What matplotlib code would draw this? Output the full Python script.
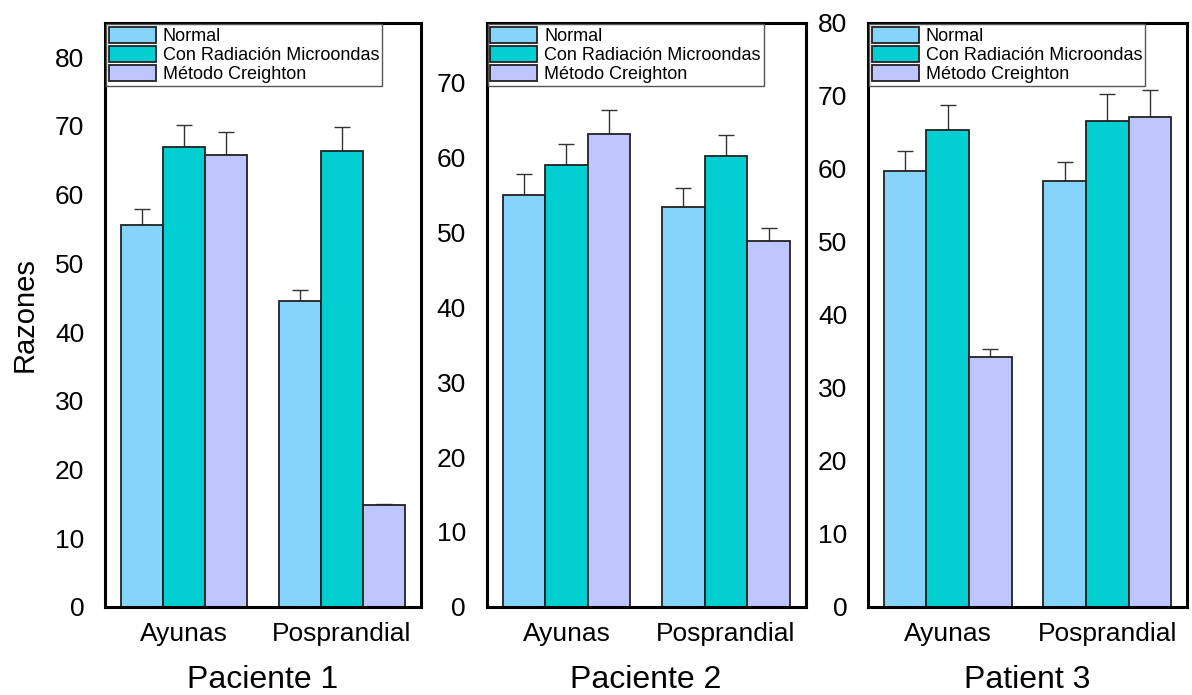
import numpy as np
import matplotlib
matplotlib.use('Agg')
import matplotlib.pyplot as plt

plt.rcParams['font.family'] = ['Liberation Sans', 'DejaVu Sans']

groups = ['Ayunas', 'Posprandial']
series = ['Normal', 'Con Radiación Microondas', 'Método Creighton']
colors = ['#87D4FA', '#00CED1', '#BFC5FF']
panels = ['Paciente 1', 'Paciente 2', 'Patient 3']

# values[panel][series] -> [Ayunas, Posprandial]
values = [
    [[55.6, 44.5], [66.9, 66.3], [65.8, 14.8]],
    [[55.0, 53.4], [59.0, 60.2], [63.2, 48.8]],
    [[59.7, 58.3], [65.3, 66.5], [34.2, 67.1]],
]
errors = [
    [[2.3, 1.6], [3.3, 3.5], [3.3, 0.2]],
    [[2.8, 2.5], [2.8, 2.8], [3.2, 1.8]],
    [[2.8, 2.6], [3.4, 3.7], [1.1, 3.7]],
]
ylims = [85, 78, 80]
yticks = [np.arange(0, 81, 10), np.arange(0, 71, 10), np.arange(0, 81, 10)]

fig = plt.figure(figsize=(11.92, 6.95), dpi=100)
lefts = [0.0881, 0.4083, 0.7282]
widths = [0.2651, 0.2676, 0.2676]

x = np.arange(len(groups))
w = 0.267
for p in range(3):
    ax = fig.add_axes([lefts[p], 0.127, widths[p], 0.840])
    for s in range(3):
        ax.bar(x + (s - 1) * w, values[p][s], w, color=colors[s],
               edgecolor='#222222', linewidth=1.3, label=series[s], zorder=2)
        ax.errorbar(x + (s - 1) * w, values[p][s],
                    yerr=[np.zeros(2), errors[p][s]], fmt='none',
                    ecolor='#333333', elinewidth=1.0, capsize=6, capthick=1.0,
                    zorder=1)
    ax.set_xlim(-0.5, 1.5)
    ax.set_ylim(0, ylims[p])
    ax.set_yticks(yticks[p])
    ax.set_xticks(x)
    ax.set_xticklabels(groups)
    ax.tick_params(length=0, labelsize=19)
    ax.tick_params(axis='y', pad=15)
    ax.tick_params(axis='x', pad=11)
    for sp in ax.spines.values():
        sp.set_linewidth(2.2)
    ax.set_xlabel(panels[p], fontsize=23, labelpad=14)
    leg = ax.legend(loc='upper left', bbox_to_anchor=(0, 1), borderaxespad=0.05,
                    fontsize=13, handlelength=2.6, handleheight=1.0,
                    labelspacing=0.05, handletextpad=0.4, borderpad=0.15,
                    fancybox=False, framealpha=1)
    leg.get_frame().set_edgecolor('#555555')
    leg.get_frame().set_linewidth(1.0)
    if p == 0:
        ax.set_ylabel('Razones', fontsize=21)
        ax.yaxis.set_label_coords(-0.21, 0.5)

fig.savefig('out.png', dpi=100)
